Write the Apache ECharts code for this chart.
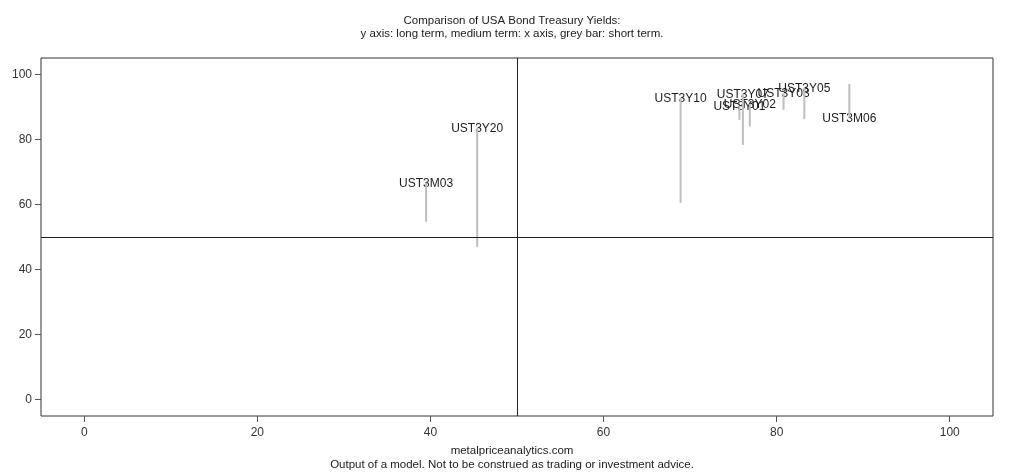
<!DOCTYPE html>
<html lang="en">
<head>
    <meta charset="UTF-8">
    <title>USA Bond Treasury Yields</title>
    <style>
        html,
        body {
            margin: 0;
            padding: 0;
            width: 100%;
            height: 100%;
            background: #fff;
        }

        #canvas {
            width: 1024px;
            height: 472px;
        }
    </style>
</head>
<body>
<div id="canvas"></div>
<script src="https://cdn.jsdelivr.net/npm/echarts@6.0.0/dist/echarts.min.js"></script>
<script>
    const names = ['UST3M03', 'UST3Y20', 'UST3Y10', 'UST3Y07', 'UST3Y01', 'UST3Y02', 'UST3Y03', 'UST3Y05', 'UST3M06']
    const mediumTerm = [39.5, 45.4, 68.9, 76.1, 75.7, 76.9, 80.8, 83.2, 88.4]   // x
    const longTerm = [66.7, 83.6, 92.8, 94.0, 90.3, 90.9, 94.2, 95.8, 86.7]     // y
    const shortTerm = [54.7, 47.0, 60.5, 78.3, 86.0, 84.0, 89.1, 86.2, 97.0]    // grey bar end
    const tickValues = [0, 20, 40, 60, 80, 100]

    const font = 'Liberation Sans, Arial, sans-serif'
    const textColor = '#1a1a1a'

    const points = names.map((n, i) => [mediumTerm[i], longTerm[i], shortTerm[i], n])

    function axis(margin) {
        return {
            type: 'value',
            min: -5,
            max: 105,
            splitLine: { show: false },
            axisLine: { show: false, onZero: false },
            axisTick: { show: true, length: 6, customValues: tickValues, lineStyle: { color: '#555' } },
            axisLabel: { customValues: tickValues, color: '#333', fontFamily: font, fontSize: 12, margin: margin }
        }
    }

    const chart = echarts.init(document.getElementById('canvas'))

    chart.setOption({
        animation: false,
        title: [{
            text: 'Comparison of USA Bond Treasury Yields:\ny axis: long term, medium term: x axis, grey bar: short term.',
            left: 512,
            top: 14,
            padding: 0,
            textAlign: 'center',
            textStyle: { fontFamily: font, fontSize: 11.5, fontWeight: 'normal', color: textColor, lineHeight: 13.5 }
        }, {
            text: 'metalpriceanalytics.com\nOutput of a model. Not to be construed as trading or investment advice.',
            left: 512,
            top: 444,
            padding: 0,
            textAlign: 'center',
            textStyle: { fontFamily: font, fontSize: 11.5, fontWeight: 'normal', color: textColor, lineHeight: 14 }
        }],
        grid: {
            left: 41,
            right: 31,
            top: 58,
            bottom: 56,
            show: true,
            borderColor: '#333',
            borderWidth: 1
        },
        xAxis: axis(11),
        yAxis: axis(9),
        series: [{
            // labels at (medium, long)
            type: 'custom',
            z: 2,
            data: points,
            renderItem: (params, api) => {
                const p = api.coord([api.value(0), api.value(1)])
                return {
                    type: 'text',
                    x: p[0],
                    y: p[1] + 1,
                    style: {
                        text: points[params.dataIndex][3],
                        fill: textColor,
                        font: '12px ' + font,
                        align: 'center',
                        verticalAlign: 'middle'
                    }
                }
            }
        }, {
            // grey bar from long term to short term
            type: 'custom',
            z: 3,
            data: points,
            renderItem: (params, api) => {
                const a = api.coord([api.value(0), api.value(1)])
                const b = api.coord([api.value(0), api.value(2)])
                return {
                    type: 'line',
                    shape: { x1: a[0], y1: a[1], x2: b[0], y2: b[1] },
                    style: { stroke: '#bebebe', lineWidth: 2 }
                }
            },
            markLine: {
                silent: true,
                symbol: 'none',
                label: { show: false },
                lineStyle: { color: '#222', width: 1, type: 'solid' },
                data: [{ xAxis: 50 }, { yAxis: 50 }]
            }
        }]
    })
</script>
</body>
</html>
